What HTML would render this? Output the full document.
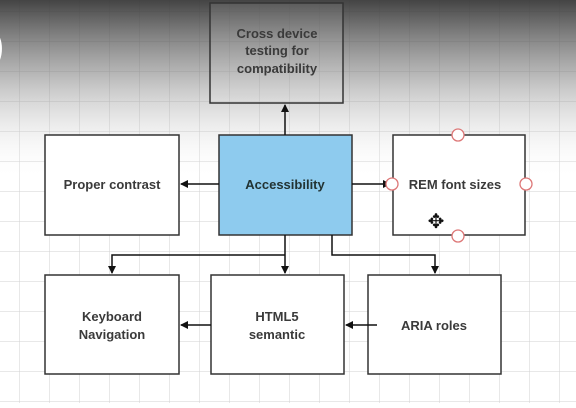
<!DOCTYPE html>
<html><head><style>
body{margin:0;width:576px;height:403px;overflow:hidden;background:#fff;font-family:"Liberation Sans",sans-serif}
</style></head><body>
<svg width="576" height="403" xmlns="http://www.w3.org/2000/svg">
<defs>
<pattern id="g" width="30" height="30" patternUnits="userSpaceOnUse" x="20" y="12">
<path d="M30 0V30M0 30H30" stroke="#d2d2d2" stroke-width="1" fill="none"/></pattern>
<linearGradient id="sh" x1="0" y1="0" x2="0" y2="1">
<stop offset="0" stop-color="#3a3a3a" stop-opacity="0.95"/>
<stop offset="0.4" stop-color="#777" stop-opacity="0.55"/>
<stop offset="1" stop-color="#fff" stop-opacity="0"/></linearGradient>
<marker id="a" markerWidth="8" markerHeight="8" refX="7" refY="4" orient="auto" markerUnits="userSpaceOnUse"><path d="M0,0L8,4L0,8z" fill="#111"/></marker>
</defs>
<rect width="576" height="403" fill="url(#g)"/>
<rect width="576" height="180" fill="url(#sh)"/>
<text x="-10" y="60" font-size="44" fill="#fff">)</text>
<g stroke="#333" stroke-width="1.5" fill="none">
<rect x="210" y="3" width="133" height="100" fill="#fff" fill-opacity="0.1"/>
<rect x="45" y="135" width="134" height="100" fill="#fff"/>
<rect x="219" y="135" width="133" height="100" fill="#8ecbee"/>
<rect x="393" y="135" width="132" height="100" fill="#fff"/>
<rect x="45" y="275" width="134" height="99" fill="#fff"/>
<rect x="211" y="275" width="133" height="99" fill="#fff"/>
<rect x="368" y="275" width="133" height="99" fill="#fff"/>
</g>
<g stroke="#111" stroke-width="1.5" fill="none">
<path d="M285 135V105" marker-end="url(#a)"/>
<path d="M219 184H181" marker-end="url(#a)"/>
<path d="M352 184H390" marker-end="url(#a)"/>
<path d="M285 235V273" marker-end="url(#a)"/>
<path d="M285 255H112V273" marker-end="url(#a)"/>
<path d="M332 235V255H435V273" marker-end="url(#a)"/>
<path d="M377 325H346" marker-end="url(#a)"/>
<path d="M211 325H181" marker-end="url(#a)"/>
</g>
<g stroke="#d77" stroke-width="1.3" fill="#fff">
<circle cx="458" cy="135" r="6"/><circle cx="392" cy="184" r="6"/>
<circle cx="526" cy="184" r="6"/><circle cx="458" cy="236" r="6"/>
</g>
<text x="436" y="228" font-size="20" text-anchor="middle" fill="#111">✥</text>
<g font-size="13" font-weight="bold" fill="#3a3a3a" text-anchor="middle">
<text x="277" y="38">Cross device</text><text x="277" y="55">testing for</text><text x="277" y="73">compatibility</text>
<text x="112" y="189">Proper contrast</text>
<text x="285" y="189" fill="#233">Accessibility</text>
<text x="455" y="189">REM font sizes</text>
<text x="112" y="321">Keyboard</text><text x="112" y="339">Navigation</text>
<text x="277" y="321">HTML5</text><text x="277" y="339">semantic</text>
<text x="434" y="330">ARIA roles</text>
</g>
</svg>
</body></html>
